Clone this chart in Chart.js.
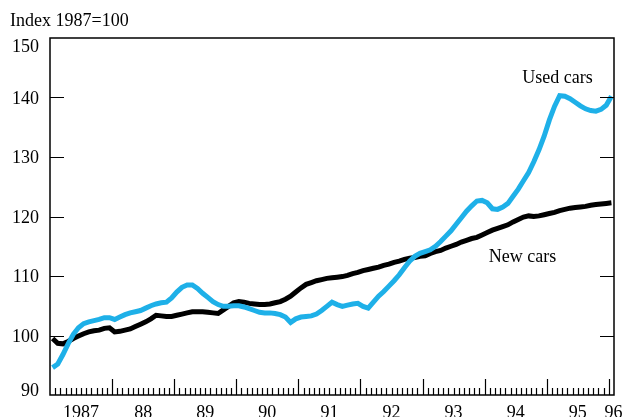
<!DOCTYPE html>
<html>
<head>
<meta charset="utf-8">
<script src="https://cdn.jsdelivr.net/npm/chart.js@4"></script>
<style>
  html, body { margin: 0; padding: 0; background: #fff; }
  #wrap { width: 623px; height: 417px; }
</style>
</head>
<body>
<div id="wrap"><canvas id="chart"></canvas></div>
<script>
// monthly index, Jan 1987 .. Jan 1996 (1987=100)
const usedCars = [
  94.6, 95.2, 96.8, 98.6, 100.2, 101.3, 102.0, 102.3, 102.5, 102.7, 103.0, 103.0,
  102.7, 103.1, 103.5, 103.8, 104.0, 104.2, 104.6, 105.0, 105.3, 105.5, 105.6, 106.3,
  107.3, 108.1, 108.5, 108.5, 107.9, 107.1, 106.4, 105.7, 105.2, 104.9, 104.9, 105.0,
  105.0, 104.8, 104.5, 104.2, 103.9, 103.8, 103.8, 103.7, 103.5, 103.1, 102.2, 102.8,
  103.1, 103.2, 103.3, 103.6, 104.2, 104.9, 105.6, 105.2, 104.9, 105.1, 105.3, 105.4,
  104.9, 104.6, 105.6, 106.6, 107.4, 108.3, 109.2, 110.2, 111.4, 112.5, 113.3, 113.8,
  114.1, 114.4, 115.0, 115.8, 116.7, 117.6, 118.7, 119.8, 120.9, 121.8, 122.6, 122.7,
  122.3, 121.3, 121.2, 121.6, 122.2, 123.4, 124.6, 126.0, 127.4, 129.2, 131.2, 133.5,
  136.2, 138.5, 140.3, 140.2, 139.8, 139.2, 138.6, 138.1, 137.8, 137.7, 138.0, 138.7,
  140.2
];
const newCars = [
  99.5, 98.7, 98.6, 99.0, 99.5, 99.9, 100.3, 100.6, 100.8, 100.9, 101.2, 101.3,
  100.6, 100.7, 100.9, 101.1, 101.5, 101.9, 102.3, 102.8, 103.4, 103.3, 103.2, 103.2,
  103.4, 103.6, 103.8, 104.0, 104.0, 104.0, 103.9, 103.8, 103.7, 104.3, 104.9, 105.5,
  105.7, 105.6, 105.4, 105.3, 105.2, 105.2, 105.3, 105.5, 105.7, 106.1, 106.6, 107.3,
  108.0, 108.6, 108.9, 109.2, 109.4, 109.6, 109.7, 109.8, 109.9, 110.1, 110.4, 110.6,
  110.9, 111.1, 111.3, 111.5, 111.8, 112.0, 112.3, 112.5, 112.8, 113.0, 113.1, 113.3,
  113.4, 113.8, 114.1, 114.3, 114.7, 115.0, 115.3, 115.7, 116.0, 116.3, 116.5, 116.9,
  117.3, 117.7, 118.0, 118.3, 118.6, 119.1, 119.5, 119.9, 120.1, 120.0, 120.1, 120.3,
  120.5, 120.7, 121.0, 121.2, 121.4, 121.5, 121.6, 121.7, 121.9, 122.0, 122.1, 122.2,
  122.3
];
const yearLabels = ['1987', '88', '89', '90', '91', '92', '93', '94', '95', '96'];
const yTicks = [90, 100, 110, 120, 130, 140, 150];

const FONT = '"Liberation Serif", "Times New Roman", serif';
const BLUE = '#1eb0e8';

// x is months since Jan 1987; each monthly point sits mid-month
const toPoints = arr => arr.map((v, i) => ({ x: i + 0.5, y: v }));

// label positions: mid-year for 1987..95, just past the tick for 96
const labelPos = yearLabels.map((l, i) => i < yearLabels.length - 1 ? i * 12 + 6 : i * 12 + 0.9);

const framePlugin = {
  id: 'frame',
  afterDraw(chart) {
    const ctx = chart.ctx;
    const a = chart.chartArea;
    const xs = chart.scales.x, ys = chart.scales.y;
    ctx.save();
    ctx.strokeStyle = '#000';
    ctx.lineWidth = 1.5;
    ctx.strokeRect(a.left, a.top, a.right - a.left, a.bottom - a.top);

    // y ticks, inward on both sides
    ctx.lineWidth = 1.2;
    yTicks.slice(1, -1).forEach(v => {
      const y = Math.round(ys.getPixelForValue(v)) + 0.5;
      ctx.beginPath();
      ctx.moveTo(a.left, y); ctx.lineTo(a.left + 14, y);
      ctx.moveTo(a.right - 14, y); ctx.lineTo(a.right, y);
      ctx.stroke();
    });

    // monthly x ticks, years longer
    for (let m = 1; m <= 108; m++) {
      const x = Math.round(xs.getPixelForValue(m)) + 0.5;
      const len = m % 12 === 0 ? 16 : 7;
      ctx.beginPath();
      ctx.moveTo(x, a.bottom); ctx.lineTo(x, a.bottom - len);
      ctx.stroke();
    }

    ctx.fillStyle = '#000';
    ctx.font = '18px ' + FONT;
    ctx.textBaseline = 'alphabetic';

    // y labels; the end ones are nudged inside the axis range
    ctx.textAlign = 'right';
    yTicks.forEach((v, i) => {
      let y = ys.getPixelForValue(v);
      if (i === 0) y -= 5;
      if (i === yTicks.length - 1) y += 8;
      ctx.fillText(String(v), 39, y + 6);
    });

    // year labels
    ctx.textAlign = 'center';
    yearLabels.forEach((l, i) => {
      ctx.fillText(l, xs.getPixelForValue(labelPos[i]), a.bottom + 23);
    });

    ctx.textAlign = 'left';
    ctx.fillText('Index 1987=100', 10, 26);

    ctx.textAlign = 'center';
    ctx.fillText('Used cars', xs.getPixelForValue(98.1), ys.getPixelForValue(143.5) + 6);
    ctx.fillText('New cars', xs.getPixelForValue(91.3), ys.getPixelForValue(113.4) + 6);
    ctx.restore();
  }
};

new Chart(document.getElementById('chart'), {
  type: 'line',
  data: {
    datasets: [
      {
        label: 'Used cars',
        data: toPoints(usedCars),
        borderColor: BLUE,
        borderWidth: 5,
        pointRadius: 0,
        tension: 0
      },
      {
        label: 'New cars',
        data: toPoints(newCars),
        borderColor: '#000',
        borderWidth: 5,
        pointRadius: 0,
        tension: 0
      }
    ]
  },
  options: {
    responsive: true,
    maintainAspectRatio: false,
    animation: false,
    layout: { padding: { top: 38, right: 9, left: 0, bottom: 0 } },
    plugins: {
      legend: { display: false },
      tooltip: { enabled: false }
    },
    scales: {
      x: {
        type: 'linear',
        min: 0,
        max: 109,
        grid: { display: false },
        border: { display: false },
        ticks: { display: false },
        afterFit: scale => { scale.height = 22; }
      },
      y: {
        min: 90,
        max: 150,
        grid: { display: false },
        border: { display: false },
        ticks: { display: false },
        afterFit: scale => { scale.width = 50; }
      }
    }
  },
  plugins: [framePlugin]
});
</script>
</body>
</html>
